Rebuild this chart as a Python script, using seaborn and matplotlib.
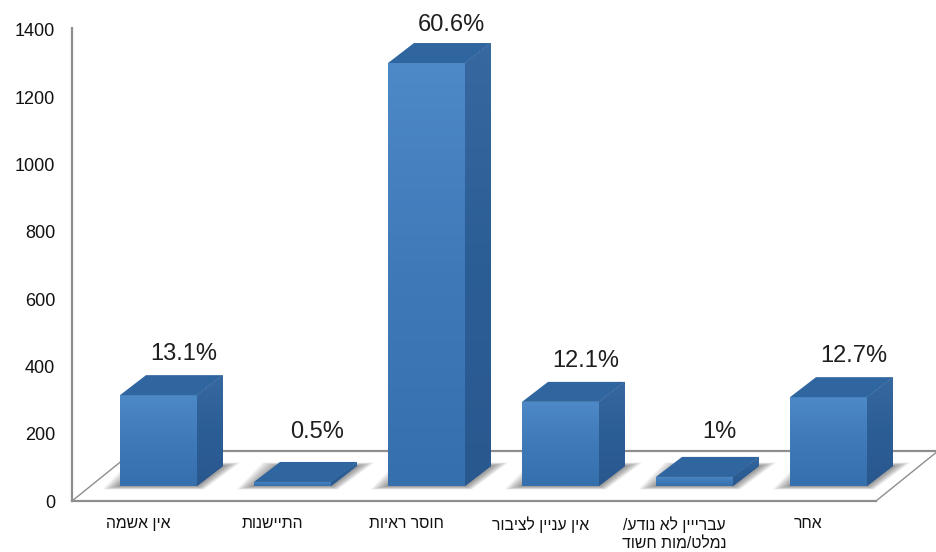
import numpy as np
import pandas as pd
import seaborn as sns
import matplotlib.pyplot as plt
from matplotlib.colors import LinearSegmentedColormap
from matplotlib.patches import Polygon

CATEGORIES = ["אין אשמה", "התיישנות", "חוסר ראיות", "אין עניין לציבור", "עברייין לא נודע/\nנמלט/מות חשוד", "אחר"]
COUNTS = [270, 12, 1257, 250, 27, 264]
SHARES = ["13.1%", "0.5%", "60.6%", "12.1%", "1%", "12.7%"]
Y_TICKS = [0, 200, 400, 600, 800, 1000, 1200, 1400]

# pixel scale of the axes, everything 3d is worked out from these
PX_X = 134
PX_Y = 0.3365
FLOOR = 15 / PX_Y
BAR_W = 77 / PX_X
BAR_DX = 26 / PX_X
BAR_DY = 20 / PX_Y
FLOOR_DX = 62 / PX_X
FLOOR_DY = 50 / PX_Y
GRAY = "#8e8e8e"

FRONT = LinearSegmentedColormap.from_list("front", ["#4d88c7", "#4079b8", "#3570ad"])
SIDE = LinearSegmentedColormap.from_list("side", ["#37689f", "#2c5e96", "#29588e"])


def visual(text):
    # matplotlib has no bidi support, so hebrew goes in reversed per line
    return "\n".join(line[::-1] for line in text.split("\n"))


def shade(ax, patch, cmap, extent):
    grad = np.linspace(0, 1, 64).reshape(-1, 1)
    im = ax.imshow(grad, cmap=cmap, extent=extent, aspect="auto", origin="upper", zorder=patch.get_zorder() + 0.1)
    im.set_clip_path(patch)


sns.set_theme(style="white")
plt.rcParams["font.family"] = ["Liberation Sans", "DejaVu Sans"]

fig = plt.figure(figsize=(9.37, 5.52), dpi=100)
ax = fig.add_axes([72 / 937, (552 - 501) / 552, (937 - 72) / 937, (501 - 28) / 552])

df = pd.DataFrame({"category": [visual(c) for c in CATEGORIES], "count": COUNTS})
sns.barplot(data=df, x="category", y="count", color="#3f79b8", width=BAR_W, saturation=1,
            linewidth=0, edgecolor="none", ax=ax, zorder=4)

xlim = (-86.5 / PX_X, (937 - 158.5) / PX_X)
ylim = (0, (501 - 28) / PX_Y)

# floor
floor_right = (876 - 158.5) / PX_X
ax.add_patch(Polygon([(xlim[0], 0), (floor_right, 0), (floor_right + FLOOR_DX, FLOOR_DY), (xlim[0] + FLOOR_DX, FLOOR_DY)],
                     closed=True, facecolor="white", edgecolor="none", zorder=1, clip_on=False))
ax.plot([xlim[0], xlim[0] + FLOOR_DX], [0, FLOOR_DY], color=GRAY, lw=1, zorder=1.2, clip_on=False)
ax.plot([floor_right, floor_right + FLOOR_DX], [0, FLOOR_DY], color=GRAY, lw=1, zorder=1.2, clip_on=False)
ax.plot([xlim[0] + FLOOR_DX, floor_right + FLOOR_DX], [FLOOR_DY, FLOOR_DY], color=GRAY, lw=1.6, zorder=1.2, clip_on=False)

for bar, share, count in zip(ax.patches, SHARES, COUNTS):
    bar.set_y(FLOOR)
    x0 = bar.get_x()
    x1 = x0 + bar.get_width()
    top = FLOOR + count

    # soft shadow on the floor
    for k in range(1, 17):
        gx = k * 1.1 / PX_X
        gy = k * 0.22 / PX_Y
        ax.add_patch(Polygon([(x0 - gx, FLOOR - gy), (x1 + gx * 0.4, FLOOR - gy),
                              (x1 + BAR_DX + gx, FLOOR + BAR_DY + gy), (x0 + BAR_DX - gx, FLOOR + BAR_DY + gy)],
                             closed=True, facecolor="#303030", edgecolor="none", alpha=0.04, zorder=1.5))

    # side and top faces
    side = Polygon([(x1, FLOOR), (x1 + BAR_DX, FLOOR + BAR_DY), (x1 + BAR_DX, top + BAR_DY), (x1, top)],
                   closed=True, facecolor="#2b5c94", edgecolor="none", zorder=4)
    ax.add_patch(side)
    shade(ax, side, SIDE, (x1, x1 + BAR_DX, FLOOR, top + BAR_DY))
    ax.add_patch(Polygon([(x0, top), (x1, top), (x1 + BAR_DX, top + BAR_DY), (x0 + BAR_DX, top + BAR_DY)],
                         closed=True, facecolor="#30669f", edgecolor="none", zorder=4.5))

    # front face gradient runs over the whole height of the face
    shade(ax, bar, FRONT, (x0, x1, FLOOR, top))

    # short bars keep their label up off the floor, the tall one stays in the figure
    label_y = min(FLOOR + max(count, 39) + BAR_DY, 1352)
    ax.annotate(share, (x0 + bar.get_width() / 2 + 25 / PX_X, label_y),
                xytext=(0, 15), textcoords="offset points", ha="center", va="center",
                fontsize=17, color="#1e1e1e", annotation_clip=False)

ax.set_xlim(xlim)
ax.set_ylim(ylim)
ax.set_yticks(Y_TICKS)
ax.set_xticks(np.arange(len(CATEGORIES)) - 20 / PX_X, df["category"], linespacing=1.25)
ax.tick_params(axis="y", length=0, pad=12, labelsize=13, labelcolor="#111111")
ax.tick_params(axis="x", length=0, pad=11, labelsize=11.3, labelcolor="#111111")
ax.set_xlabel("")
ax.set_ylabel("")
sns.despine(ax=ax, top=True, right=True)
for name in ["left", "bottom"]:
    ax.spines[name].set_color(GRAY)
    ax.spines[name].set_linewidth(1.6)
ax.spines["bottom"].set_bounds(xlim[0], floor_right)

fig.savefig("out.png", dpi=100)
